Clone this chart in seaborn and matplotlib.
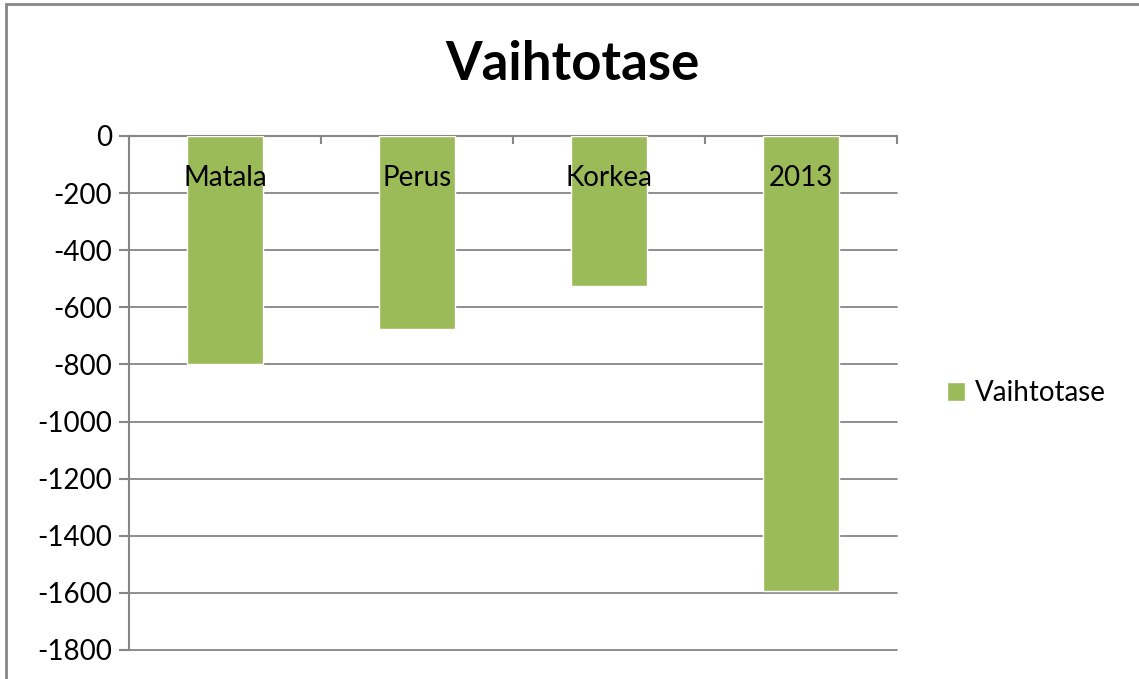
import matplotlib
matplotlib.use("Agg")
import matplotlib.pyplot as plt
import seaborn as sns
import pandas as pd
from matplotlib.patches import Rectangle

categories = ["Matala", "Perus", "Korkea", "2013"]
values = [-800, -677, -527, -1595]
series_name = "Vaihtotase"
y_ticks = list(range(-1800, 1, 200))

sns.set_style("white")
plt.rcParams["font.family"] = ["Lato", "DejaVu Sans"]
plt.rcParams["text.color"] = "black"

df = pd.DataFrame({"cat": categories, "val": values})

fig = plt.figure(figsize=(11.39, 6.79), dpi=100)
ax = fig.add_axes([129 / 1139, 29 / 679, 768 / 1139, 514 / 679])

sns.barplot(data=df, x="cat", y="val", color="#9BBB59", width=0.4,
            saturation=1, label=series_name, ax=ax, zorder=3)

grey = "#868686"
ax.set_ylim(-1800, 0)
ax.set_xlim(-0.5, len(categories) - 0.5)
ax.set_yticks(y_ticks)
ax.set_yticklabels([str(t) for t in y_ticks], fontsize=20)
for t in y_ticks:
    ax.axhline(t, color=grey, lw=1.3, zorder=1, clip_on=False)

# category axis sits on the zero line (top of plot)
ax.spines["top"].set_visible(True)
ax.spines["top"].set_color(grey)
ax.spines["top"].set_linewidth(1.5)
ax.spines["right"].set_visible(False)
ax.spines["bottom"].set_visible(False)
ax.spines["left"].set_color(grey)
ax.spines["left"].set_linewidth(1.5)
ax.xaxis.set_ticks_position("top")
ax.set_xticks([i - 0.5 for i in range(len(categories) + 1)])
ax.tick_params(axis="x", direction="in", length=6, width=1.5, color=grey,
               labeltop=False, labelbottom=False)
ax.tick_params(axis="y", direction="out", length=7, width=1.5, color=grey,
               pad=5, labelcolor="black", left=True)
for i, c in enumerate(categories):
    ax.annotate(c, (i, 0), xytext=(0, -30), textcoords="offset points",
                ha="center", va="center", fontsize=20, color="black", zorder=5)
ax.set_xlabel("")
ax.set_ylabel("")

fig.text(572 / 1139, 1 - 64 / 679, series_name, ha="center", va="center",
         fontsize=38, fontweight="bold", color="black")

leg = ax.legend(loc="center left", bbox_to_anchor=(922 / 1139, 1 - 393 / 679),
                bbox_transform=fig.transFigure, frameon=False, fontsize=20,
                handlelength=0.65, handleheight=0.65, handletextpad=0.35)
for txt in leg.get_texts():
    txt.set_color("black")

fig.patches.append(Rectangle((6 / 1139, -0.1), 1.2, 1 - 4 / 679 + 0.1,
                             transform=fig.transFigure, fill=False,
                             edgecolor=grey, lw=2))

fig.savefig("out.png", dpi=100)
